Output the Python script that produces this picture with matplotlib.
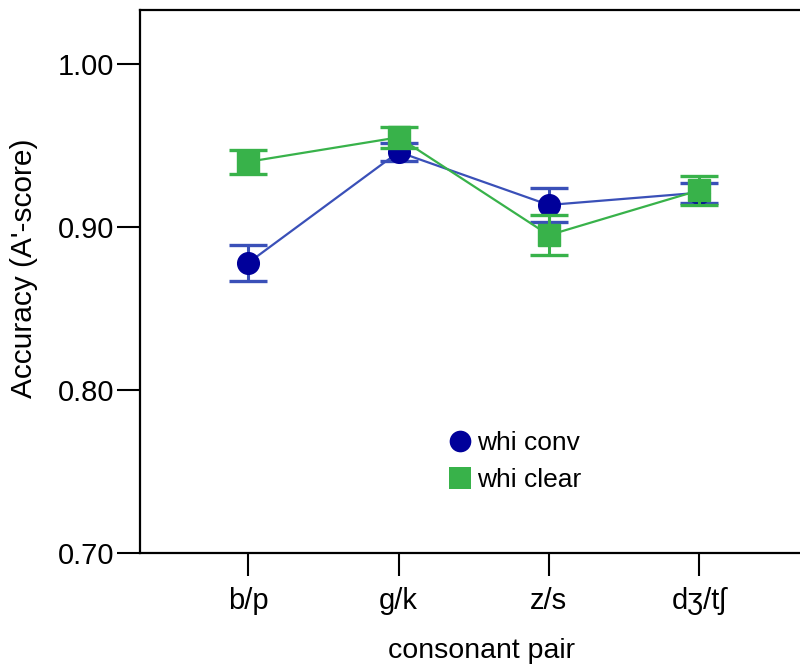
import matplotlib
matplotlib.use('Agg')
import matplotlib.pyplot as plt
from matplotlib.lines import Line2D

plt.rcParams['font.family'] = ['Liberation Sans', 'DejaVu Sans']

# mean A' scores and error bar half-widths per consonant pair
pairs = ['b/p', 'g/k', 'z/s', 'dʒ/tʃ']
conv_mean = [0.878, 0.946, 0.9135, 0.921]
conv_err = [0.011, 0.0058, 0.0106, 0.006]
clear_mean = [0.940, 0.955, 0.895, 0.9225]
clear_err = [0.0075, 0.0063, 0.0123, 0.0088]

blue_line = '#3a50b8'
blue_mark = '#00009a'
green = '#38b24a'

fig = plt.figure(figsize=(8, 6.72), dpi=100)
ax = fig.add_axes([139.5 / 800, 1 - 553 / 672, (808 - 139.5) / 800, (553 - 10) / 672])

x = list(range(len(pairs)))

ax.errorbar(x, conv_mean, yerr=conv_err, color=blue_line, lw=1.6,
            elinewidth=2.2, capsize=13.7, capthick=2.4,
            marker='o', ms=15.6, mfc=blue_mark, mec=blue_mark, zorder=2)
ax.errorbar(x, clear_mean, yerr=clear_err, color=green, lw=1.6,
            elinewidth=2.2, capsize=13.7, capthick=2.4,
            marker='s', ms=15.6, mfc=green, mec=green, zorder=3)

ax.set_xlim(-0.724, 3.724)
ax.set_ylim(0.70, 1.0331)
ax.set_yticks([0.70, 0.80, 0.90, 1.00])
ax.set_yticklabels(['0.70', '0.80', '0.90', '1.00'])
ax.set_xticks(x)
ax.set_xticklabels(pairs)

for s in ax.spines.values():
    s.set_linewidth(1.6)
ax.tick_params(axis='both', length=16.5, width=1.5, labelsize=21)
ax.tick_params(axis='y', pad=1.5)
ax.tick_params(axis='x', pad=8)

fig.text(24 / 800, 1 - 268 / 672, "Accuracy (A'-score)", rotation=90,
         ha='center', va='center', fontsize=21.5)
fig.text(482 / 800, 1 - 651 / 672, 'consonant pair',
         ha='center', va='center', fontsize=20.5)

handles = [
    Line2D([], [], ls='none', marker='o', ms=15.6, mfc=blue_mark, mec=blue_mark, mew=0),
    Line2D([], [], ls='none', marker='s', ms=15.6, mfc=green, mec=green, mew=0),
]
ax.legend(handles, ['whi conv', 'whi clear'], loc='upper left',
          bbox_to_anchor=(436 / 800, 1 - 418 / 672), bbox_transform=fig.transFigure,
          frameon=False, fontsize=19, borderpad=0, handlelength=0.85,
          handletextpad=0.2, labelspacing=0.5)

fig.savefig('out.png', dpi=100)
